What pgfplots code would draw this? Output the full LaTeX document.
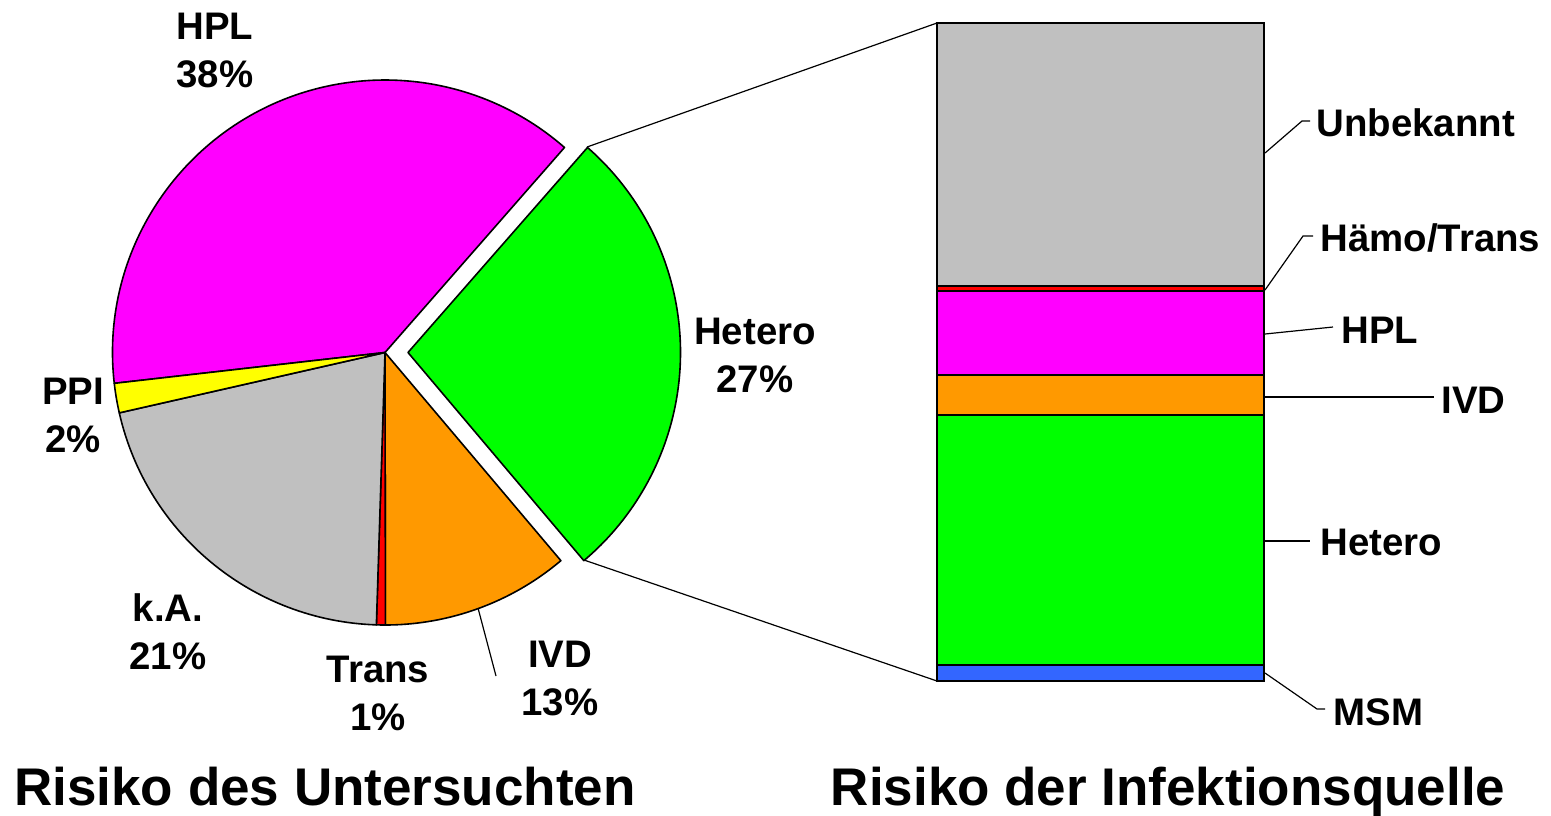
\documentclass[border=0pt]{standalone}
\usepackage{pgfplots}
\pgfplotsset{compat=1.18}
\usepackage{fontspec}
\setmainfont{Liberation Sans}
\definecolor{cMag}{HTML}{FF00FF}
\definecolor{cGreen}{HTML}{00FF00}
\definecolor{cOrange}{HTML}{FF9900}
\definecolor{cRed}{HTML}{FF0000}
\definecolor{cGray}{HTML}{C0C0C0}
\definecolor{cYellow}{HTML}{FFFF00}
\definecolor{cBlue}{HTML}{3366FF}
% pie shares (percent)
\def\pHPL{38.25}
\def\pHet{27.39}
\def\pIVD{11.14}
\def\pTr{0.53}
\def\pkA{20.94}
\def\pPPI{1.75}
\def\pStart{186.5}
\newcommand\pieslice[4]{%
  \filldraw[fill=#3, draw=black, line width=0.8pt, line join=round]
    ([xshift=#4]axis cs:0,0) -- +(#1:136.25pt)
    arc[start angle=#1, delta angle=-3.6*#2, radius=136.25pt] -- cycle;}
\begin{document}
\begin{tikzpicture}[x=0.5pt,y=-0.5pt, font=\bfseries\fontsize{19.2}{24}\selectfont]
\useasboundingbox (0,0) rectangle (1551,815);
\coordinate (pc) at (385,352.5);
\coordinate (bc) at (937,681);
\pgfmathsetmacro\aA{\pStart}
\pgfmathsetmacro\aB{\aA-3.6*\pHPL}
\pgfmathsetmacro\aC{\aB-3.6*\pHet}
\pgfmathsetmacro\aD{\aC-3.6*\pIVD}
\pgfmathsetmacro\aE{\aD-3.6*\pTr}
\pgfmathsetmacro\aF{\aE-3.6*\pkA}
\begin{axis}[at={(pc)}, anchor=center, scale only axis,
  width=272.5pt, height=272.5pt, xmin=-1, xmax=1, ymin=-1, ymax=1,
  hide axis, clip=false]
\pieslice{\aA}{\pHPL}{cMag}{0pt}
\pieslice{\aB}{\pHet}{cGreen}{11.5pt}
\pieslice{\aC}{\pIVD}{cOrange}{0pt}
\pieslice{\aD}{\pTr}{cRed}{0pt}
\pieslice{\aE}{\pkA}{cGray}{0pt}
\pieslice{\aF}{\pPPI}{cYellow}{0pt}
\end{axis}
\begin{axis}[at={(bc)}, anchor=south west, scale only axis,
  width=163.5pt, height=329pt, xmin=-0.5, xmax=0.5, ymin=0, ymax=100,
  hide axis, ybar stacked, bar width=163.5pt, clip=false]
\addplot[fill=cBlue, draw=black, line width=0.8pt] coordinates {(0,2.43)};
\addplot[fill=cGreen, draw=black, line width=0.8pt] coordinates {(0,37.99)};
\addplot[fill=cOrange, draw=black, line width=0.8pt] coordinates {(0,6.08)};
\addplot[fill=cMag, draw=black, line width=0.8pt] coordinates {(0,12.77)};
\addplot[fill=cRed, draw=black, line width=0.8pt] coordinates {(0,0.76)};
\addplot[fill=cGray, draw=black, line width=0.8pt] coordinates {(0,39.97)};
\end{axis}
% connectors
\draw[line width=0.6pt] (587,147) -- (937,23);
\draw[line width=0.6pt] (584,560) -- (937,681);
% pie labels
\node[align=center] at (215,51) {HPL\\38\%};
\node[align=center] at (73,415) {PPI\\2\%};
\node[align=center] at (168,632) {k.A.\\21\%};
\node[align=center] at (378,693) {Trans\\1\%};
\node[align=center] at (560,678) {IVD\\13\%};
\node[align=center] at (755,355) {Hetero\\27\%};
\draw[line width=0.6pt] (478,608) -- (496,676);
% bar labels
\draw[line width=0.6pt] (1265,153) -- (1302,121) -- (1310,121);
\node[anchor=west, inner sep=0pt] at (1316,123) {Unbekannt};
\draw[line width=0.6pt] (1265,290) -- (1303,236) -- (1313,236);
\node[anchor=west, inner sep=0pt] at (1320,238) {Hämo/Trans};
\draw[line width=0.6pt] (1265,334) -- (1333,327);
\node[anchor=west, inner sep=0pt] at (1341,330) {HPL};
\draw[line width=0.6pt] (1265,397) -- (1434,397);
\node[anchor=west, inner sep=0pt] at (1441,400) {IVD};
\draw[line width=0.6pt] (1265,541) -- (1310,541);
\node[anchor=west, inner sep=0pt] at (1320,542) {Hetero};
\draw[line width=0.6pt] (1265,673) -- (1317,709) -- (1325,709);
\node[anchor=west, inner sep=0pt] at (1333,712) {MSM};
% titles
\node[anchor=base, font=\bfseries\fontsize{26.5}{30}\selectfont] at (325,805) {Risiko des Untersuchten};
\node[anchor=base, font=\bfseries\fontsize{26.5}{30}\selectfont] at (1168,805) {Risiko der Infektionsquelle};
\end{tikzpicture}
\end{document}
